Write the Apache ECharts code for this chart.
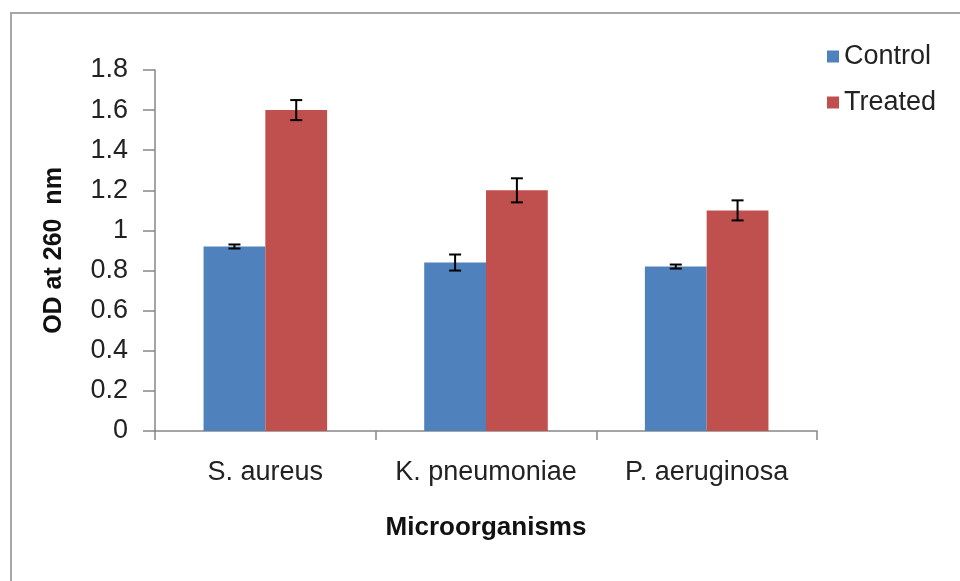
<!DOCTYPE html>
<html><head><meta charset="utf-8">
<script src="https://cdn.jsdelivr.net/npm/echarts@6/dist/echarts.min.js"></script>
<style>html,body{margin:0;padding:0;background:#fff}#c{width:960px;height:581px}</style>
</head><body><div id="c"></div>
<script>
const categories = ['S. aureus', 'K. pneumoniae', 'P. aeruginosa'];
const controlValues = [0.92, 0.84, 0.82];
const controlErrors = [0.01, 0.04, 0.01];
const treatedValues = [1.60, 1.20, 1.10];
const treatedErrors = [0.05, 0.06, 0.05];
const yTicks = [0, 0.2, 0.4, 0.6, 0.8, 1, 1.2, 1.4, 1.6, 1.8];

const GAP = 0.44;
function errData(vals, errs){ return vals.map((v,i)=>[i, v, errs[i]]); }
function errSeries(name, vals, errs, side){
  return {
    type:'custom', name: name+' err', silent:true, z:10,
    data: errData(vals, errs),
    renderItem: function(params, api){
      const idx = api.value(0), v = api.value(1), e = api.value(2);
      const catW = api.size([1,0])[0];
      const bw = catW*(1-GAP)/2;
      const c = api.coord([idx, v]);
      const x = c[0] + side*bw/2;
      const yt = api.coord([idx, v+e])[1];
      const yb = api.coord([idx, v-e])[1];
      const cap = 6;
      const st = {stroke:'#000', lineWidth:2};
      return {type:'group', children:[
        {type:'line', shape:{x1:x,y1:yt,x2:x,y2:yb}, style:st},
        {type:'line', shape:{x1:x-cap,y1:yt,x2:x+cap,y2:yt}, style:st},
        {type:'line', shape:{x1:x-cap,y1:yb,x2:x+cap,y2:yb}, style:st}
      ]};
    }
  };
}
const FONT = 'Liberation Sans, Arial, sans-serif';
const chart = echarts.init(document.getElementById('c'));
chart.setOption({
  animation:false,
  backgroundColor:'#fff',
  textStyle:{fontFamily:FONT},
  graphic:[{type:'rect', shape:{x:11, y:13, width:1000, height:600}, style:{fill:'none', stroke:'#a6a6a6', lineWidth:2}, z:-1}],
  legend:{
    orient:'vertical', left:822, top:38, itemGap:19, itemWidth:12, itemHeight:12,
    icon:'rect',
    textStyle:{fontSize:27, color:'#222', fontFamily:FONT, padding:[0,0,0,0]},
    data:['Control','Treated']
  },
  grid:{left:155, right:143, top:70, bottom:150, containLabel:false},
  xAxis:{
    type:'category', data:categories,
    axisLine:{lineStyle:{color:'#868686', width:1.5}},
    axisTick:{show:true, length:9, interval:0, alignWithLabel:false, lineStyle:{color:'#868686', width:1.5}},
    axisLabel:{fontSize:27, color:'#222', margin:28, interval:0, hideOverlap:false},
    name:'Microorganisms', nameLocation:'middle', nameGap:84,
    nameTextStyle:{fontSize:26, fontWeight:'bold', color:'#111'}
  },
  yAxis:{
    type:'value', min:0, max:1.8, interval:0.2,
    splitLine:{show:false},
    axisLine:{show:true, lineStyle:{color:'#868686', width:1.5}},
    axisTick:{show:true, length:12, lineStyle:{color:'#868686', width:1.5}},
    axisLabel:{fontSize:27, color:'#222', margin:27,
      formatter: function(v){ const t = yTicks.find(x=>Math.abs(x-v)<1e-9); return String(t!==undefined?t:v); }},
    name:'OD at 260  nm', nameLocation:'middle', nameGap:88, nameRotate:90,
    nameTextStyle:{fontSize:25, fontWeight:'bold', color:'#111'}
  },
  series:[
    {type:'bar', name:'Control', data:controlValues, barGap:'0%', barCategoryGap:(GAP*100)+'%',
     itemStyle:{color:'#4F81BD'}},
    {type:'bar', name:'Treated', data:treatedValues, barGap:'0%', barCategoryGap:(GAP*100)+'%',
     itemStyle:{color:'#C0504D'}},
    errSeries('Control', controlValues, controlErrors, -1),
    errSeries('Treated', treatedValues, treatedErrors, 1)
  ]
});
</script></body></html>
